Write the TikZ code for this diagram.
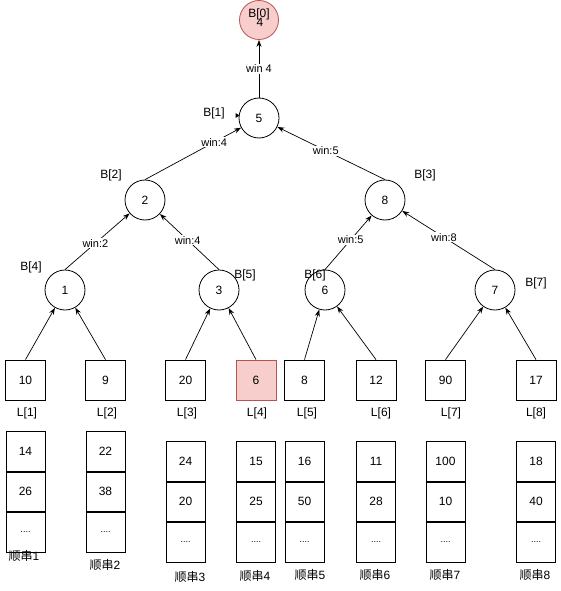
\documentclass[tikz,border=0pt]{standalone}
\usepackage{fontspec}
\setmainfont{Liberation Sans}
\newfontfamily\cjk{Noto Sans CJK SC}
\usetikzlibrary{arrows.meta}
\definecolor{redfill}{HTML}{F8CECC}
\definecolor{redline}{HTML}{B85450}
\begin{document}
\begin{tikzpicture}[x=1pt,y=-1pt,
  every node/.style={font=\fontsize{12}{14}\selectfont, inner sep=0pt},
  bnode/.style={circle, draw, minimum size=40pt, line width=0.8pt},
  leaf/.style={rectangle, draw, minimum size=40pt, line width=0.8pt},
  cell/.style={rectangle, draw, minimum width=39pt, minimum height=39.7pt, line width=0.8pt},
  lbl/.style={font=\fontsize{12}{14}\selectfont},
  wl/.style={fill=white, inner sep=1pt, font=\fontsize{11}{13}\selectfont},
  arr/.style={-{Stealth[length=7pt,width=5pt]}, line width=0.7pt},
  ln/.style={line width=0.7pt}]
\useasboundingbox (0,0) rectangle (560,591);
% tree nodes
\node[bnode, fill=redfill, draw=redline, minimum size=39pt] (B0) at (259,20) {};
\node at (260,22) {4};
\node[lbl] (b0l) at (259,14) {B[0]};
\node[bnode] (B1) at (259,118) {5};
\node[bnode] (B2) at (145,200) {2};
\node[bnode] (B3) at (385,200) {8};
\node[bnode] (B4) at (65,290) {1};
\node[bnode] (B5) at (219,290) {3};
\node[bnode] (B6) at (325,290) {6};
\node[bnode] (B7) at (495,290) {7};
% B labels
\node[lbl] (b1l) at (214,113) {B[1]};
\node[lbl] (b2l) at (111,175) {B[2]};
\node[lbl] (b3l) at (425,175) {B[3]};
\node[lbl] (b4l) at (31,267) {B[4]};
\node[lbl] (b5l) at (245,275) {B[5]};
\node[lbl] (b6l) at (315,275) {B[6]};
\node[lbl] (b7l) at (536,283) {B[7]};
% tiny arrow mark at B1
\fill (235.5,113) -- (239.5,115.5) -- (235.5,118) -- cycle;
% tree edges
\draw[arr] (B1) -- node[wl] {win 4} (B0);
\draw[arr] (B2.north) -- node[wl, pos=0.72] {win:4} (B1);
\draw[arr] (B3.north) -- node[wl, pos=0.55] {win:5} (B1);
\draw[arr] (B4.north) -- node[wl, pos=0.47] {win:2} (B2);
\draw[arr] (B5.north) -- node[wl, pos=0.53] {win:4} (B2);
\draw[arr] (B6.north) -- node[wl, pos=0.55] {win:5} (B3);
\draw[arr] (B7.north) -- node[wl, pos=0.55] {win:8} (B3);
% leaves
\node[leaf] (L1) at (25.5,380) {10};
\node[leaf] (L2) at (105.5,380) {9};
\node[leaf] (L3) at (185.5,380) {20};
\node[leaf, fill=redfill, draw=redline] (L4) at (256,380) {6};
\node[leaf] (L5) at (304.5,380) {8};
\node[leaf] (L6) at (376,380) {12};
\node[leaf] (L7) at (445.5,380) {90};
\node[leaf] (L8) at (536,380) {17};
\foreach \i/\x in {1/27,2/107,3/187,4/257,5/307,6/381,7/451,8/536}
  \node[lbl] (ll\i) at (\x,413) {L[\i]};
\draw[arr] (L1.north) -- (B4);
\draw[arr] (L2.north) -- (B4);
\draw[arr] (L3.north) -- (B5);
\draw[arr] (L4.north) -- (B5);
\draw[arr] (L5.north) -- (B6);
\draw[arr] (L6.north) -- (B6);
\draw[arr] (L7.north) -- (B7);
\draw[arr] (L8.north) -- (B7);
% runs
\foreach \r/\x/\y/\a/\b in {1/25.5/431/14/26, 2/105.5/431/22/38, 3/185.5/441/24/20, 4/256/441/15/25,
  5/304.5/441/16/50, 6/376/441/11/28, 7/445.5/441/100/10, 8/536/441/18/40}{
  \node[cell, anchor=north] (r\r a) at (\x,\y) {\a};
  \node[cell, anchor=north] (r\r b) at (r\r a.south) {\b};
  \node[cell, anchor=north] (r\r c) at (r\r b.south) {\fontsize{9}{10}\selectfont....};
}
\foreach \r/\x/\y in {1/24/556, 2/105/565, 3/190/577, 4/255/576, 5/310/575, 6/375/575, 7/445/575, 8/535/575}
  \node[lbl] (rl\r) at (\x,\y) {{\cjk 顺串}\r};
\end{tikzpicture}
\end{document}
